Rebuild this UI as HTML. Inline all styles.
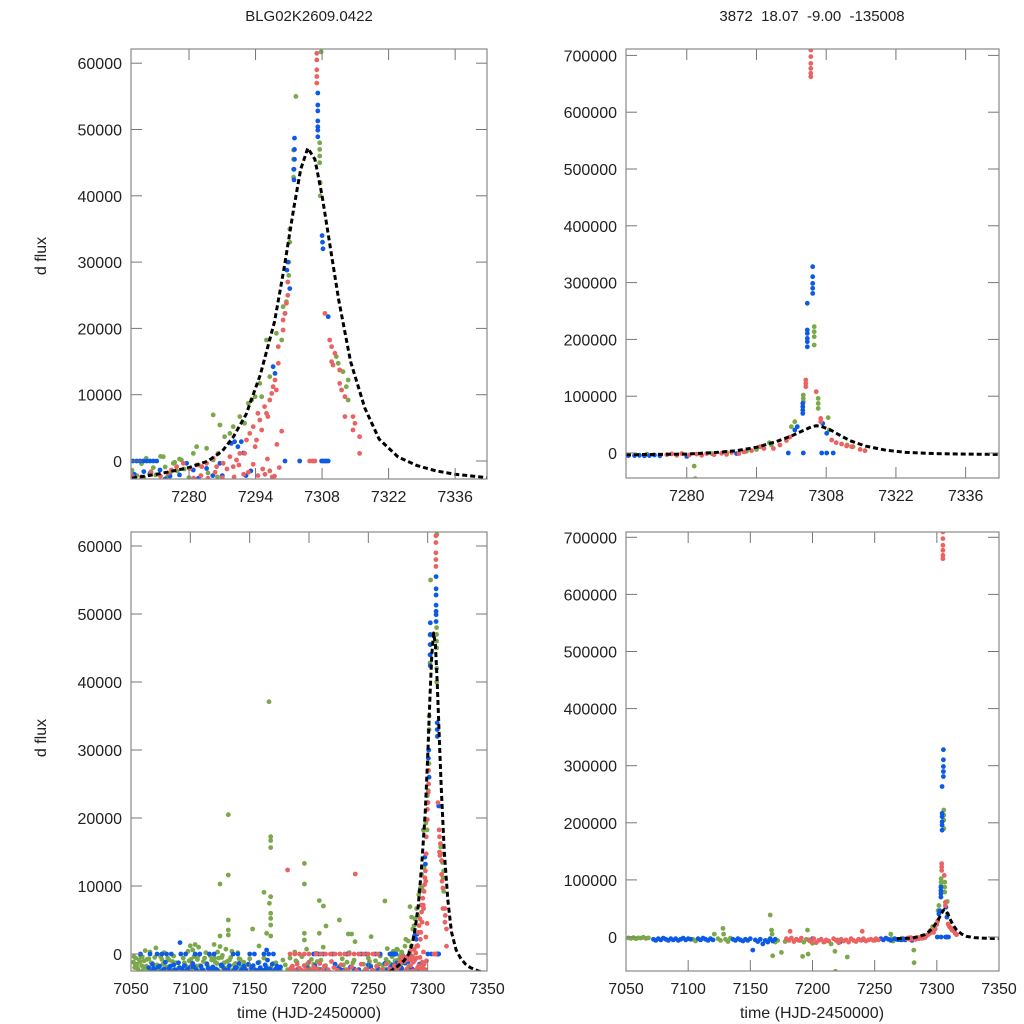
<!DOCTYPE html>
<html><head><meta charset="utf-8"><style>
html,body{margin:0;padding:0;background:#fff;}
svg{display:block;font-family:"Liberation Sans",Arial,sans-serif;}
</style></head><body>
<svg id="chart" xmlns="http://www.w3.org/2000/svg" width="1024" height="1024" viewBox="0 0 1024 1024">
<rect x="0" y="0" width="1024" height="1024" fill="#fff"/>
<text x="309" y="21" font-size="15" text-anchor="middle" fill="#222">BLG02K2609.0422</text>
<text x="812" y="21" font-size="15" text-anchor="middle" fill="#222" xml:space="preserve">3872  18.07  -9.00  -135008</text>
<text transform="translate(46,256) rotate(-90)" font-size="16" text-anchor="middle" fill="#222">d flux</text>
<text transform="translate(46,738) rotate(-90)" font-size="16" text-anchor="middle" fill="#222">d flux</text>
<text x="309" y="1018" font-size="16" text-anchor="middle" fill="#222">time (HJD-2450000)</text>
<text x="812" y="1018" font-size="16" text-anchor="middle" fill="#222">time (HJD-2450000)</text>
</svg>
<script>
// ---------- LEFT dataset (BLG02K2609.0422) ----------
const L_green_t = [7052,7053,7054,7055,7056,7057,7058,7059,7060,7061,7062,7063,7064,7065,7066,7068,7069,7070,7071,7072,7074,7076,7078,7080,7082,7084,7086,7088,7090,7094,7096,7098,7099,7100,7101,7102,7103,7104,7105,7106,7107,7110,7112,7113,7114,7116,7118,7120,7121,7122,7123,7124,7125,7126,7127,7128,7130,7131,7132,7134,7135,7136,7138,7140,7142,7144,7148,7150,7154,7158,7162,7168,7172,7176,7178,7180,7182,7184,7186,7188,7190,7192,7194,7196,7198,7200,7202,7204,7206,7208,7210,7212,7214,7216,7226,7228,7230,7232,7234,7236,7238,7246,7248,7250,7252,7254,7256,7258,7260,7262,7264,7265,7266,7268,7269,7270,7271,7272,7273,7274,7275,7276,7277,7278,7279,
7052.5,7053.5,7055.5,7057.5,7059.5,7061.5,7063.5,7065.5,7067,7069.5,7073,7075,7077,7079,7081,7083,7085,7087,7095,7097,7100.5,7102.5,7104.5,7106.5,7108,7109,7111,7115,7117,7119,7120.5,7122.5,7124.5,7126.5,7128.5,7129.5,7133,7137,7139,7141,7143,7145,7160,7164,7170,7174,7185,7189,7195,7199,7203,7207,7211,7229,7233,7237,7247,7251,7255,7259,7263,7267,7270.5,7272.5,7275.5,7277.5,7280,7282,7284,7286,
7132,7132,7125,7132,7132,7132,7125,7166.3,7167.7,7167.7,7167.7,7162.1,7166.6,7167.7,7167.7,7167.7,7167.7,7164.3,7167.7,7152.5,7157.9,7196.1,7196.1,7196.1,7196.1,7208.7,7212.1,7214.3,7208.7,7225.6,7233.1,7235.9,7238.8,7252.3,7264,7285.1,
7274.6,7276.7,7278.4,7280.9,7281.6,7283.7,7285.1,7286.1,7286.5,7287.5,7288.6,7289.3,7290.7,7291.7,7292.5,7293.2,7293.9,7294.9,7295.3,7296.3,7297,7298.4,7299.5,7299.8,7300.5,7301,7301,7301.2,7301.2,7302,7302,7302,7302,7302.5,7307.5,7307.5,7307.5,7307.5,7307.6,7307.6,7307.8,7311,7311.4,7311.7,7312.4,7313.1,7313.5,7313.5];
const L_green_v = [-1200,-2000,-600,-1500,-2300,-900,-300,-1700,-2400,-1000,500,-1800,-2200,-700,300,-1400,-2300,-500,900,-1600,-2200,-800,200,-1900,-900,-2300,-300,-1300,-2100,-600,-1700,400,-1000,1200,-2200,600,-400,1400,-1800,-800,1000,-2300,-600,200,-1400,-2400,-900,1400,-1200,-2200,300,-600,1100,-1800,-200,-2300,700,-1100,-1900,-500,400,-2300,-1400,200,-800,-2100,-1600,-700,-2200,-1200,-600,-2000,-1300,-2400,-900,-1600,-2300,-600,-1800,300,-1200,-2300,-400,-1700,700,-2100,-800,-1500,100,-2200,-900,1000,-1700,-2400,-1800,-700,-2300,-1200,200,-2000,-900,-1500,-2300,-600,-1700,-2400,-1000,-2100,-300,-1600,-2300,-800,800,-1400,-2200,-400,400,-1600,-2100,700,-900,-1900,-200,300,-1200,
-400,-1500,-2100,-1100,-400,-1900,-800,-2500,-1300,-1700,-2400,-400,-1500,-2600,-600,-1800,-1100,-2500,-1300,-2200,-800,-1600,-2500,-300,-1700,-2300,-1100,-1900,-300,-2500,-600,-1400,-2600,-500,-1300,-2100,-900,-1600,-2500,-700,-1900,-1200,-2600,-1800,-1400,-2500,-2000,-1000,-2500,-1400,-2300,-1100,-2500,-1600,-2500,-1300,-2400,-1100,-2600,-1500,-2200,-1200,-2500,-1000,-2300,-1500,-2500,-600,-1800,-2400,
20490,11620,10290,5000,3530,2790,2650,37100,17250,16670,15640,9070,7450,8430,5980,5240,4260,3040,2650,3680,1180,13330,10290,3040,2060,7850,7060,4120,3040,5000,2940,2940,1810,2550,7800,6960,
650,-350,150,1150,2160,1910,150,1150,5430,3670,4170,5180,6690,5680,8700,9200,9700,11710,9700,18250,12720,19260,18250,23280,24030,28000,30000,33000,35000,42800,44000,45500,46900,55000,45000,46000,47000,48000,42000,40000,61700,15740,14730,13720,13470,11210,12220,9200];
const L_blue_t = [7058,7066,7072,7076,7080,7084,7092,7096,7104,7108,7116,7120,7136,7140,7150,7154,7162,7166,7170,7204,7208,7212,7220,7232,7244,7248,7256,7260,7268.2,7269,7269.7,7270.4,7271.1,7271.8,7272.5,7273.2,7300.2,7303.3,7307.9,7308.2,7308.6,7308.9,7309.3,
7065,7068,7070,7074,7077,7079,7082,7086,7088,7090,7093,7095,7097,7100,7102,7105,7109,7111,7114,7117,7119,7123,7126,7129,7133,7137,7139,7141,7143,7145,7147,7149,7151,7153,7155,7157,7159,7161,7163,7165,7167,7169,7171,7173,7175,7190,7198,7205,7215,7222,7228,7235,7242,7250,7258,7264,7268.5,7270.5,7271.8,7273.9,7276,7279.5,7280.9,7283.7,7285,7286.5,7288.9,7289.6,7290.3,7291,7291.5,7292,7293,7297.7,7298.1,7300.2,7300.6,7300.8,7301.2,7302.1,7302.1,7302.2,7302.2,7302.2,7307.1,7307.1,7307.1,7307.1,7307.1,7307.1,7307.1,7308,7308.1,7308.2,7309.3,7091.3,7164.3,
7067,7069,7071,7073,7075,7078,7081,7083,7085,7087,7089,7091,7094,7098,7101,7103,7106,7110,7112,7115,7118,7121,7124,7127,7130,7132,7135,7138,7142,7146,7148,7152,7156,7158,7160,7164,7168,7172,7174,7176,7203,7210,7218,7225,7230,7238,7245,7252,7260,7266,7275,7278,7282,7287];
const L_blue_v = [0,0,0,0,0,0,0,0,0,0,0,0,0,0,0,0,0,0,0,0,0,0,0,0,0,0,0,0,0,0,0,0,0,0,0,0,0,0,0,0,0,0,0,
-2000,-1500,-2300,-1800,-2400,-1200,-2100,-1600,-2400,-1300,-2200,-1700,-2400,-1900,-1400,-2300,-1800,-2400,-1500,-2200,-1900,-2400,-1600,-2300,-1700,-2400,-2000,-1400,-2300,-1800,-2400,-1500,-2100,-1700,-2400,-1300,-2000,-2400,-1600,-900,-2200,-1500,-2400,-1800,-2200,-2300,-2000,-1700,-2300,-1500,-2400,-1900,-2300,-1600,-2200,-1400,-2000,-1600,-1860,-1360,-2300,-350,-1360,-1110,-2200,-350,2660,2910,2160,2910,1200,-2200,-1500,14230,13220,22270,28800,30000,26000,42400,44000,45500,47000,48700,48900,49900,50400,51300,52800,53700,55500,34000,33000,32000,21770,1670,590,
-2600,-2100,-2700,-1900,-2600,-2200,-2700,-1800,-2600,-2300,-2700,-2000,-2600,-2200,-2700,-1900,-2600,-2300,-2700,-2100,-2600,-2200,-2700,-1800,-2600,-2300,-2700,-2000,-2600,-2200,-2700,-1900,-2600,-2300,-2700,-2100,-2600,-2200,-2700,-1900,-2600,-2300,-2700,-2000,-2600,-2200,-2700,-1900,-2600,-2300,-2700,-2100,-2600,-2200];
const L_red_t = [7184,7188,7192,7196,7200,7206,7210,7214,7218,7222,7226,7230,7234,7238,7242,7246,7250,7254,7258,7305.4,7306.1,7306.5,
7184,7186,7188,7190,7192,7194,7196,7198,7200,7202,7204,7207,7209,7211,7213,7216,7219,7221,7224,7227,7232,7236,7240,7244,7248,7253,7257,7261,7265,7268,7270,7272,7274,7182,7239,
7275.6,7276.3,7277.4,7278.8,7280.2,7281.6,7282.7,7283.7,7285.1,7285.8,7287.2,7288.6,7289.3,7290,7290.7,7291.7,7292.1,7292.8,7293.5,7293.9,7294.2,7294.5,7294.9,7295.3,7295.9,7296.3,7296.6,7297,7297.4,7297.7,7298.1,7298.4,7298.8,7298.8,7299.8,7299.8,7300.2,7300.5,7300.8,7300.8,7296,7297,7298,7299,
7306.9,7306.9,7306.9,7306.9,7306.9,7306.9,
7308.6,7309.6,7310,7310,7310.3,7310.7,7311.7,7311.7,7312.1,7312.8,7312.8,7314.5,7314.5,7314.9,7315.9,7315.9,
7185,7189,7193,7197,7201,7205,7208,7212,7217,7223,7229,7234,7241,7247,7255,7263,7281,7282.5,7284,7285.5,7287,7288,7289.5,7290.5,7291.5,7292.5,7293.5,7294.5,7295.5,7296.5,7297.5,7298.5,7299.5];
const L_red_v = [0,0,0,0,0,0,0,0,0,0,0,0,0,0,0,0,0,0,0,0,0,0,
-2300,-1800,-2400,-1500,-2100,-2400,-1700,-2300,-1200,-2400,-1900,-2200,-1400,-2400,-1800,-2300,-1100,-2000,-2400,-1600,-2300,-1900,-2400,-1500,-2200,-2400,-1800,-2300,-1500,-2200,-2400,-1700,-2300,12350,11760,
-1860,-1360,-860,-350,-1110,-600,-860,-350,400,-860,-350,650,-860,150,1150,1150,3170,4170,5180,2160,3170,7190,6180,4670,8200,7190,6690,9200,10200,11210,12220,10710,14730,17240,21270,19760,22270,23780,25000,27000,-2000,-1500,-2300,-1000,
57000,58000,59000,60500,61500,63000,
22270,18250,17240,14980,14480,16240,13720,11710,10710,9700,6690,6690,4670,5680,3670,1150,
-2600,-2700,-2600,-2700,-2600,-2700,-2600,-2700,-2600,-2700,-2600,-2700,-2600,-2700,-2600,-2700,-2600,-2200,-2600,-1700,-2500,-1200,-2400,-600,-2000,-1700,-500,-2200,-1200,300,-2400,2500,4500];
const L_model_t = [7268,7274,7280,7284,7287,7289.3,7292,7295,7298,7300,7302,7303.5,7305,7306.5,7308,7310,7311.5,7314,7317,7320,7324,7328,7332,7336,7342.7,7350];
const L_model_v = [-2600,-1900,-1000,0,1500,3600,7000,13000,21000,29000,38000,44000,47200,45500,40000,31000,24300,15000,8000,3300,600,-700,-1500,-2000,-2500,-2800];

// ---------- RIGHT dataset (3872 18.07 -9.00 -135008) ----------
const R_green_t = [7052,7054,7056,7058,7060,7062,7064,7066,7068,7104,7106,7121,7124,7126,7128,7128.5,7130,7132,7134,7165,7166,7167,7167.5,7168,7170,7172,7175,7178,7190,7192,7193,7195,7196,7196.5,7198,7200,7210,7215,7218,7218.5,7220,7228,7250,7263,7263.5,7265,7268,7272,7281.5,7281.7,7285,7288,7292,7294,7296.6,7297,
7301,7301.7,7303.4,7303.4,7303.4,7305.6,7305.6,7305.6,7305.6,7306.4,7306.4,7306.4,7308.4,7308.6,7312.2,7313.4];
const R_green_v = [-1500,-2500,-1000,-3000,-1500,-2000,-500,-2500,-1500,-4000,-7000,5000,-3000,-6000,15000,5000,-4000,-8000,-2000,-5000,38500,12000,5000,-33000,-9000,-6000,-27000,-8000,-6000,-34000,-9000,-4000,12000,-30000,-7000,-11000,-8000,-12000,-25000,-60000,-5000,-35000,-6000,5000,-3000,-7000,-4000,-2000,-23000,-45000,-1000,1000,3000,6000,18200,14000,
46300,55100,102100,96200,90300,222400,213500,204700,190100,96200,87400,78600,62100,40500,14000,11100];
const R_blue_t = [7072,7074,7076,7078,7080,7082,7084,7086,7088,7090,7092,7094,7096,7098,7100,7102,7108,7110,7112,7114,7116,7118,7120,7136,7138,7140,7142,7144,7146,7148,7150,7152,7154,7156,7158,7160,7162,7164,7166,7168,7170,7200,7222,7240,7255,7257,7259,7261,7263,7266,7268.3,7269.5,7270.5,7271.5,7272.5,7273.5,7274.6,7280,7290,
7300.4,7303.4,7307.1,7308.1,7309.4,
7301.7,7302.2,7303.3,7303.3,7303.3,7303.3,7304.2,7304.2,7304.2,7304.2,7304.2,7304.2,7305.3,7305.3,7305.3,7305.3,7305.3,7307.3,7308.1];
const R_blue_v = [-4000,-6000,-3000,-5000,-2000,-4000,-6000,-3000,-5000,-3000,-6000,-4000,-2000,-5000,-3000,-4000,-3000,-5000,-2000,-4000,-6000,-3000,-5000,-4000,-6000,-3000,-5000,-7000,-4000,-6000,-3000,-23000,-5000,-8000,-4000,-12000,-6000,-9000,-3000,-7000,-4000,-3000,-9000,-5000,-3000,-5000,-2000,-4000,-6000,-3000,-4600,-4600,-4000,-5000,-4600,-3500,-5000,-6000,-1000,
0,0,0,0,0,
40500,46300,87400,81500,75600,69800,263500,216500,210600,201800,195900,187000,328000,310400,298600,289900,281000,52200,34600];
const R_red_t = [7182,7240,7179,7181,7183,7185,7187,7189,7191,7197,7199,7201,7203,7205,7207,7209,7211,7213,7217,7219,7221,7223,7225,7227,7229,7231,7233,7235,7237,7239,7241,7243,7245,7247,7249,7251,7253,7276,7277,7278,7279,7280.5,7282,7283,7284,7285.5,7287,7288,7289,7290.5,7291.5,7293,7294.7,7295.5,7297.4,7298.7,7300,7300.7,
7303.9,7303.9,7303.9,7304.9,7304.9,7304.9,7304.9,7304.9,7304.9,7306,7306.9,7306.9,
7309.1,7310,7311.1,7312.1,7313.1,7314.8,7315.8];
const R_red_v = [10000,10000,-3000,-6000,-2000,-8000,-4000,-6000,-2000,-5000,-8000,-3000,-10000,-6000,-4000,-9000,-5000,-7000,-3000,-6000,-10000,-4000,-7000,-5000,-9000,-3000,-6000,-8000,-4000,-6000,-3000,-7000,-5000,-4000,-6000,-3000,-5000,-3000,-1500,-4000,-1000,-3500,-2000,-4000,-1000,-3000,-500,-2500,1000,-1000,2000,4000,11000,8000,8000,14000,22000,28000,
128500,122600,116700,709500,697800,686000,677200,668400,662500,107900,61000,55100,
22800,18200,15800,12300,11100,6400,4000];
const R_model_t = [7267.8,7280,7286,7290,7294,7298,7301,7303,7305,7306,7307,7309,7311,7313,7316,7320,7324,7330,7336,7343,7350];
const R_model_v = [-3000,-2000,1000,4000,10000,20000,30000,38000,46000,48000,47000,40000,30000,21000,12000,5000,1000,-1000,-2000,-2500,-2800];

// tick label arrays
const xTicksZoom = [7280,7294,7308,7322,7336];
const xTicksFull = [7050,7100,7150,7200,7250,7300,7350];
const yTicksSmall = [0,10000,20000,30000,40000,50000,60000];
const yTicksLarge = [0,100000,200000,300000,400000,500000,600000,700000];

const COL = {green:'#7ba84a', blue:'#0c5ae6', red:'#eb6262'};
const NS = 'http://www.w3.org/2000/svg';
const svg = document.getElementById('chart');

const panels = [
 {name:'top-left', px0:131, px1:487, py0:49, py1:479, tmin:7267.8, tmax:7342.7, vmin:-2715, vmax:62142, ds:'L', xt:xTicksZoom, yt:yTicksSmall},
 {name:'top-right', px0:626, px1:999, py0:49, py1:478, tmin:7267.8, tmax:7342.7, vmin:-44014, vmax:711268, ds:'R', xt:xTicksZoom, yt:yTicksLarge},
 {name:'bottom-left', px0:131, px1:487, py0:532, py1:971, tmin:7050, tmax:7350, vmin:-2500, vmax:62059, ds:'L', xt:xTicksFull, yt:yTicksSmall},
 {name:'bottom-right', px0:626, px1:999, py0:532, py1:971, tmin:7050, tmax:7350, vmin:-59545, vmax:709282, ds:'R', xt:xTicksFull, yt:yTicksLarge}
];
const DS = {
 L:{green:[L_green_t,L_green_v], blue:[L_blue_t,L_blue_v], red:[L_red_t,L_red_v], model:[L_model_t,L_model_v]},
 R:{green:[R_green_t,R_green_v], blue:[R_blue_t,R_blue_v], red:[R_red_t,R_red_v], model:[R_model_t,R_model_v]}
};

function mk(tag, attrs, parent){
  const e = document.createElementNS(NS, tag);
  for (const k in attrs) e.setAttribute(k, attrs[k]);
  (parent||svg).appendChild(e);
  return e;
}

panels.forEach(function(p, pi){
  const xs = function(t){ return p.px0 + (t - p.tmin) / (p.tmax - p.tmin) * (p.px1 - p.px0); };
  const ys = function(v){ return p.py1 - (v - p.vmin) / (p.vmax - p.vmin) * (p.py1 - p.py0); };
  const g = mk('g', {});
  
  
  const clipId = 'clip' + pi;
  const cp = mk('clipPath', {id: clipId}, g);
  mk('rect', {x:p.px0, y:p.py0, width:p.px1-p.px0, height:p.py1-p.py0}, cp);
  const plot = mk('g', {'clip-path':'url(#' + clipId + ')'}, g);
  
  
  const d = DS[p.ds];
  ['green','blue','red'].forEach(function(s){
    const sg = mk('g', {fill: COL[s]}, plot);
    
    
    const tt = d[s][0], vv = d[s][1];
    for (let i = 0; i < tt.length; i++) {
      const c = mk('circle', {cx: xs(tt[i]).toFixed(1), cy: ys(vv[i]).toFixed(1), r: 2.4}, sg);
      
      
    }
  });
  const mt = d.model[0], mv = d.model[1];
  let pts = [];
  for (let i = 0; i < mt.length; i++) pts.push(xs(mt[i]).toFixed(1) + ',' + ys(mv[i]).toFixed(1));
  const line = mk('polyline', {points: pts.join(' '), fill:'none', stroke:'#000', 'stroke-width':3, 'stroke-dasharray':'5,3', 'stroke-linejoin':'round'}, plot);
  
  
  const tg = mk('g', {stroke:'#777', 'stroke-width':1}, g);
  
  
  p.xt.forEach(function(t){
    const x = xs(t);
    if (x > p.px0 + 1 && x < p.px1 - 1) {
      mk('line', {x1:x, y1:p.py1, x2:x, y2:p.py1-11}, tg);
      mk('line', {x1:x, y1:p.py0, x2:x, y2:p.py0+11}, tg);
    }
    const lb = mk('text', {x:x, y:p.py1+23, 'font-size':16, 'text-anchor':'middle', fill:'#222'}, g);
    lb.textContent = String(t);
    
    
  });
  p.yt.forEach(function(v){
    const y = ys(v);
    mk('line', {x1:p.px0, y1:y, x2:p.px0+11, y2:y}, tg);
    mk('line', {x1:p.px1, y1:y, x2:p.px1-11, y2:y}, tg);
    const lb = mk('text', {x:p.px0-9, y:y+6, 'font-size':16, 'text-anchor':'end', fill:'#222'}, g);
    lb.textContent = String(v);
    
    
  });
  const fr = mk('rect', {x:p.px0, y:p.py0, width:p.px1-p.px0, height:p.py1-p.py0, fill:'none', stroke:'#888', 'stroke-width':1.2}, g);
  
  
});
</script>
</body></html>
